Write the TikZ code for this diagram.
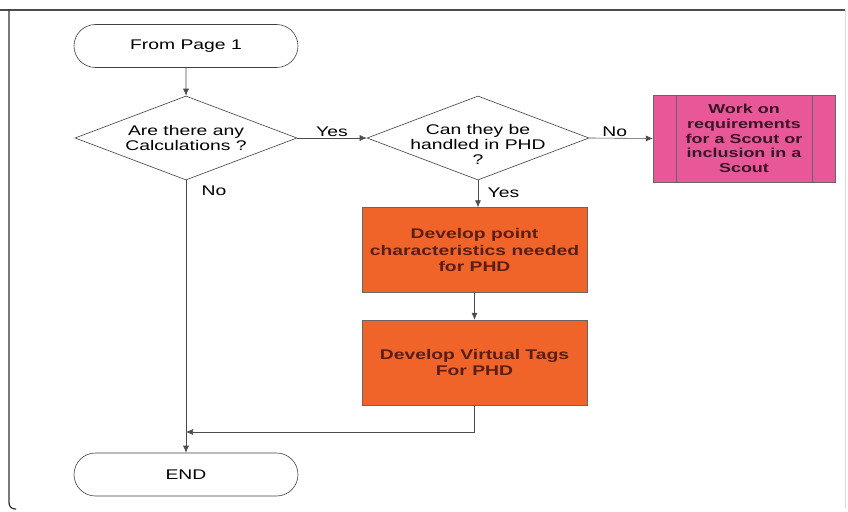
\documentclass[tikz,border=0pt]{standalone}
\usepackage{fontspec}
\setmainfont{Liberation Sans}[FakeStretch=1.38]
\usetikzlibrary{shapes.geometric,shapes.misc,arrows.meta}
\definecolor{orng}{RGB}{240,100,42}
\definecolor{pnk}{RGB}{232,88,152}
\definecolor{txtd}{RGB}{90,30,20}
\definecolor{txtp}{RGB}{60,20,40}
\tikzset{
  term/.style={rounded rectangle, draw=black!75, line width=0.6pt, minimum width=224pt, minimum height=43pt, font=\fontsize{14}{16}\selectfont, inner sep=0pt},
  dec/.style={diamond, draw=black!75, line width=0.6pt, minimum width=222pt, minimum height=84pt, inner sep=0pt, align=center, font=\fontsize{14}{15}\selectfont, aspect=2.65},
  obox/.style={rectangle, draw=black!60, fill=orng, minimum width=225pt, minimum height=85pt, align=center, font=\bfseries\fontsize{14}{16.5}\selectfont, text=txtd},
  pbox/.style={rectangle, draw=black!60, fill=pnk, minimum width=182pt, minimum height=87pt, align=center, font=\bfseries\fontsize{13}{14.8}\selectfont, text=txtp},
  conn/.style={draw=black!70, line width=0.6pt, -{Latex[length=7pt,width=6pt]}},
  lbl/.style={font=\fontsize{14}{16}\selectfont}
}
\begin{document}
\begin{tikzpicture}[x=1pt,y=-1pt]
\useasboundingbox (0,0) rectangle (848,511);
\fill[white] (0,0) rectangle (848,511);
% frame
\draw[black!70, line width=1.2pt] (0,10) -- (845,10);
\draw[black!80, line width=1.2pt, rounded corners=6pt] (9,10) -- (9,509) -- (16,509);
\draw[black!15, line width=0.8pt] (845,10) -- (845,508);

\node[term] (start) at (186,46) {From Page 1};
\node[dec] (d1) at (186,138) {Are there any\\Calculations ?};
\node[dec] (d2) at (478,138) {};
\node[align=center, font=\fontsize{14}{15}\selectfont] (d2t) at (478,144) {Can they be\\handled in PHD\\?};
\node[pbox] (work) at (744,138.5) {Work on\\requirements\\for a Scout or\\inclusion in a\\Scout};
\draw[black!60] ([xshift=23pt]work.north west) -- ([xshift=23pt]work.south west);
\draw[black!60] ([xshift=-23pt]work.north east) -- ([xshift=-23pt]work.south east);
\node[obox] (dev1) at (474.5,250) {Develop point\\characteristics needed\\for PHD};
\node[obox] (dev2) at (474.5,362.5) {Develop Virtual Tags\\For PHD};
\node[term] (end) at (186,474.5) {END};
\coordinate (merge) at (186,432);

\draw[conn] (start) -- (d1);
\draw[conn] (d1.east) -- node[lbl, above=-2pt] {Yes} (d2.west);
\draw[conn] (d2.east) -- node[lbl, above=-2pt, pos=0.4] {No} (work.west);
\draw[conn] (d2.south) -- node[lbl, right=6pt, pos=0.45] {Yes} (d2.south |- dev1.north);
\draw[conn] (dev1) -- (dev2);
\draw[conn] (dev2.south) |- (merge);
\draw[conn] (d1.south) -- node[lbl, right=12pt, pos=0.04] {No} (end.north);
\end{tikzpicture}
\end{document}
